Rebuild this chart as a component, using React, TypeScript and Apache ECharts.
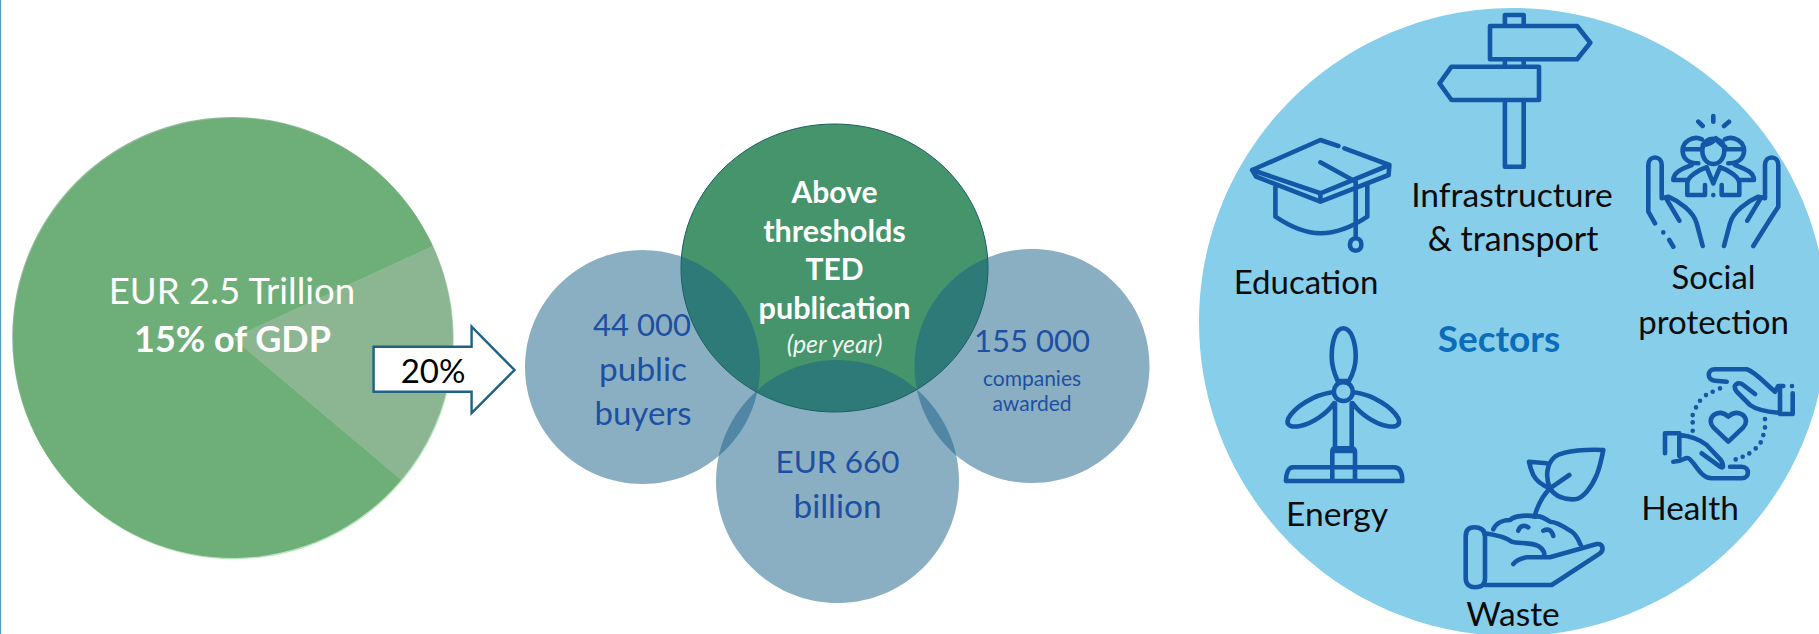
import React, { useEffect, useRef } from "react";
import * as echarts from "echarts";

// ---- data ----
const pieNames = ["Above thresholds", "Below thresholds"];
const pieValues = [18, 82];
const pieLabels = ["EUR 2.5 Trillion", "15% of GDP"];
const arrowLabel = ["20%"];
const tedLabels = ["Above", "thresholds", "TED", "publication"];
const tedNote = ["(per year)"];
const buyersLabels = ["44 000", "public", "buyers"];
const companiesLabels = ["155 000", "companies", "awarded"];
const valueLabels = ["EUR 660", "billion"];
const sectorsTitle = ["Sectors"];
const sectorLabels = ["Infrastructure", "& transport", "Education", "Social", "protection", "Energy", "Health", "Waste"];

const FONT = "Lato";
const ICON = "#1258a6";
const NAVY = "#1d50a2";

// icon outlines are noted in enlarged crop coordinates: [path, originX, originY, scaleX, scaleY]
const conv = (d: string, ox: number, oy: number, sx: number, sy: number) => {
  let i = 0;
  return d.replace(/-?\d+(\.\d+)?/g, (m) => {
    const v = parseFloat(m);
    const out = i % 2 === 0 ? ox + v / sx : oy + v / sy;
    i++;
    return out.toFixed(1);
  });
};

const dots = (pts: number[][]) => pts.map(([x, y]) => `M${x} ${y} L${x} ${y + 0.3}`).join(" ");

const iconPaths: Record<string, [string, number, number, number, number]> = {
  sign: ["M785 78 L785 45 L832 45 L832 78 M748 78 L965 78 L998 128 L965 178 L748 178 Z M785 178 L785 198 M832 178 L832 198 M870 200 L652 200 L622 250 L652 300 L870 300 Z M785 300 L785 500 L832 500 L832 300", 1190, 0, 2.493, 3],
  cap: ["M370 438 L325 420 L155 510 L325 580 L497 495 L385 445 M155 510 L165 530 L325 605 L495 525 L497 495 M325 580 L325 605 M213 560 L213 650 C250 680 290 700 325 700 C365 700 405 680 442 650 L442 550 M325 487 L413 545 L413 710 M413 715 C432 715 432 752 413 752 C394 752 394 715 413 715", 1190, 0, 2.493, 3],
  social: ["M75 370 L55 335 L55 195 C55 165 95 165 95 195 L95 295 L115 290 C150 305 190 335 200 370 L218 438 M110 298 L148 362 M118 420 L130 440 M370 438 L425 350 L445 320 L445 195 C445 165 405 165 405 195 L405 295 L385 290 C350 305 310 335 300 370 L282 438 M390 298 L352 362 M217 150 C217 105 283 105 283 150 C283 180 265 192 250 192 C235 192 217 180 217 150 M218 135 C240 135 250 125 258 115 C265 130 275 135 285 140 M215 118 C190 105 155 125 158 155 C160 175 175 190 205 190 M160 148 L213 148 M285 118 C310 105 345 125 342 155 C340 175 325 190 295 190 M340 148 L287 148 M225 255 L225 285 L172 285 L172 250 C172 230 205 210 230 202 L250 250 L270 202 C295 210 328 230 328 250 L328 285 L275 285 L275 255 M185 195 C160 205 130 215 130 240 L172 240 M315 195 C340 205 372 215 372 240 L328 240 M250 48 L250 65 M205 65 L218 78 M297 65 L282 78 " + dots([[250, 285], [100, 397]]), 1630, 100, 3, 3],
  turbine: ["M220 25 C195 25 185 70 185 110 C185 140 195 165 203 183 L237 183 C247 165 257 140 257 110 C257 70 245 25 220 25 M220 187 C258 187 258 243 220 243 C182 243 182 187 220 187 M187 217 C130 225 75 260 55 295 C45 320 70 322 90 318 C130 310 170 280 192 250 M253 217 C310 225 365 260 385 295 C395 320 370 322 350 318 C310 310 270 280 248 250 M195 250 L195 385 M245 250 L245 385 M187 483 L187 395 C187 388 190 385 195 385 L245 385 C250 385 255 388 255 395 L255 483 M187 393 L255 393 M70 442 L372 442 C390 442 397 460 397 483 L48 483 C48 460 55 442 70 442", 1270, 320, 3, 3],
  health: ["M260 95 L225 92 C200 90 200 58 225 58 L320 58 C345 65 375 100 405 125 L415 108 L430 108 M420 108 L420 192 L458 192 L458 130 M345 132 L310 105 C295 92 275 105 290 125 L330 165 C350 180 380 185 415 188 M265 275 L220 232 C195 205 235 170 265 200 C295 170 335 205 310 232 Z M75 310 L75 250 L118 250 L118 318 M185 310 L240 350 C255 360 250 335 235 322 L200 285 C175 265 150 258 120 255 M100 335 C130 335 135 320 145 325 C165 335 180 385 215 385 L305 385 C330 385 330 350 305 350 L270 350 " + dots([[456, 108], [240, 115], [218, 125], [198, 135], [180, 152], [168, 172], [158, 195], [158, 217], [158, 242], [375, 207], [375, 232], [370, 255], [362, 277], [347, 295], [328, 310], [308, 320], [287, 328]]), 1640, 350, 3, 3],
  plant: ["M460 30 C420 28 345 30 315 50 C290 70 285 110 300 145 C315 170 345 180 375 178 C400 175 425 140 440 105 C450 80 455 55 460 30 M300 145 C275 135 260 125 250 105 C243 90 240 80 237 65 L290 70 M358 105 L300 145 C280 165 265 190 255 225 M130 268 C140 245 165 240 180 240 C195 225 240 225 255 230 C270 225 285 235 300 245 C320 245 350 265 365 275 C380 285 385 300 392 315 M205 272 C210 255 225 255 235 262 M280 272 C295 265 305 270 310 288 M72 262 C55 262 47 272 47 290 L47 415 C47 435 60 442 75 442 C95 442 105 435 105 415 L105 290 C105 272 95 262 72 262 M105 280 C140 285 165 290 185 305 C205 312 240 305 265 318 C285 330 285 345 280 350 M190 372 C200 360 215 355 230 352 L300 352 L440 312 C460 310 462 330 450 340 L305 435 L105 435", 1450, 440, 3, 3],
};

Object.entries(iconPaths).forEach(([name, [d, ox, oy, sx, sy]]) => {
  echarts.graphic.registerShape("ic_" + name, echarts.graphic.extendPath(conv(d, ox, oy, sx, sy), {}));
});
echarts.graphic.registerShape(
  "arrow20",
  echarts.graphic.extendPath("M373.6 346.7 L471.6 346.7 L471.6 326.7 L514.5 370 L471.6 413 L471.6 391.7 L373.6 391.7 Z", {})
);

const label = (
  text: string,
  x: number,
  y: number,
  fontSize: number,
  fill: string,
  extra: Record<string, unknown> = {}
) => ({
  type: "text",
  x,
  y,
  z: 20,
  silent: true,
  style: {
    text,
    fill,
    fontSize,
    fontFamily: FONT,
    align: "center",
    verticalAlign: "middle",
    textAlign: "center",
    textVerticalAlign: "middle",
    ...extra,
  },
});

const disc = (cx: number, cy: number, rx: number, ry: number, style: Record<string, unknown>, z: number) => ({
  type: "ellipse",
  z,
  silent: true,
  shape: { cx, cy, rx, ry },
  style,
});

const BLUE = "rgba(23,95,133,0.5)";

export default function App() {
  const ref = useRef<HTMLDivElement>(null);
  useEffect(() => {
    document.body.style.margin = "0";
    document.body.style.background = "#fff";
    const chart = echarts.init(ref.current!, undefined, { renderer: "svg" });
    const icon = (name: string, extra: Record<string, unknown> = {}) => ({
      type: "ic_" + name,
      z: 15,
      silent: true,
      style: { fill: "none", stroke: ICON, lineWidth: 4.6, lineCap: "round", lineJoin: "round", ...extra },
    });
    const W = "#ffffff";
    const K = "#0c0c0c";
    const bold = { fontWeight: "bold" };
    chart.setOption({
      animation: false,
      backgroundColor: "#ffffff",
      series: [
        {
          type: "pie",
          silent: true,
          center: [233, 338],
          radius: 220,
          startAngle: 24.7,
          clockwise: true,
          z: 2,
          label: { show: false },
          labelLine: { show: false },
          emphasis: { disabled: true },
          data: pieNames.map((name, i) => ({
            name,
            value: pieValues[i],
            itemStyle: { color: i === 0 ? "#8cb592" : "#6eae78" },
          })),
        },
      ],
      graphic: {
        elements: [
          { type: "rect", z: 1, silent: true, shape: { x: 0, y: 0, width: 1.2, height: 634 }, style: { fill: "#5a9dbb" } },
          disc(232.2, 337, 220, 220, { fill: "#93bb9a" }, 0),
          disc(233.8, 339.2, 220, 220, { fill: "#b8e6bd" }, 0),

          disc(834.5, 268, 153.5, 144, { fill: "#45946c" }, 5),
          disc(642.5, 367, 117.5, 117, { fill: BLUE }, 6),
          disc(1032, 366, 117.5, 117, { fill: BLUE }, 6),
          disc(837.5, 481.5, 121.5, 121.5, { fill: BLUE }, 6),
          disc(834.5, 268, 153.5, 144, { fill: "none", stroke: "#1c5f63", lineWidth: 1 }, 7),

          disc(1513, 322, 314, 314, { fill: "#87ceeb" }, 5),

          { type: "arrow20", z: 12, silent: true, style: { fill: "#ffffff", stroke: "#1f6285", lineWidth: 2.4 } },

          icon("sign"),
          icon("cap"),
          icon("social"),
          icon("turbine"),
          icon("health"),
          icon("plant"),

          label(pieLabels[0], 232, 290, 36.6, W),
          label(pieLabels[1], 232.5, 338, 36, W, bold),
          label(arrowLabel[0], 433, 370, 33, "#000000"),

          label(tedLabels[0], 834.5, 191, 30, W, bold),
          label(tedLabels[1], 834.5, 230, 30.6, W, bold),
          label(tedLabels[2], 834.5, 268, 30, W, bold),
          label(tedLabels[3], 834.5, 307, 30.6, W, bold),
          label(tedNote[0], 834.5, 343, 25, "#eef4ee", { fontStyle: "italic" }),

          label(buyersLabels[0], 642, 324, 31, NAVY),
          label(buyersLabels[1], 643, 368, 33.4, NAVY),
          label(buyersLabels[2], 643, 412, 33, NAVY),

          label(companiesLabels[0], 1032, 340, 31, NAVY),
          label(companiesLabels[1], 1032, 377, 21, NAVY),
          label(companiesLabels[2], 1032, 402, 21, NAVY),

          label(valueLabels[0], 837.5, 461, 31.5, NAVY),
          label(valueLabels[1], 837.5, 505, 33.4, NAVY),

          label(sectorsTitle[0], 1499, 337, 37, "#0b6cb9", bold),

          label(sectorLabels[0], 1512, 194, 33.6, K),
          label(sectorLabels[1], 1513, 237, 34, K),
          label(sectorLabels[2], 1306, 281, 33, K),
          label(sectorLabels[3], 1713.5, 276, 32.8, K),
          label(sectorLabels[4], 1713.5, 321, 33, K),
          label(sectorLabels[5], 1337, 513, 33.6, K),
          label(sectorLabels[6], 1690, 507, 33.4, K),
          label(sectorLabels[7], 1513, 613, 33.5, K),
        ],
      },
    });
    return () => chart.dispose();
  }, []);
  return <div ref={ref} style={{ position: "fixed", left: 0, top: 0, width: 1819, height: 634 }} />;
}
